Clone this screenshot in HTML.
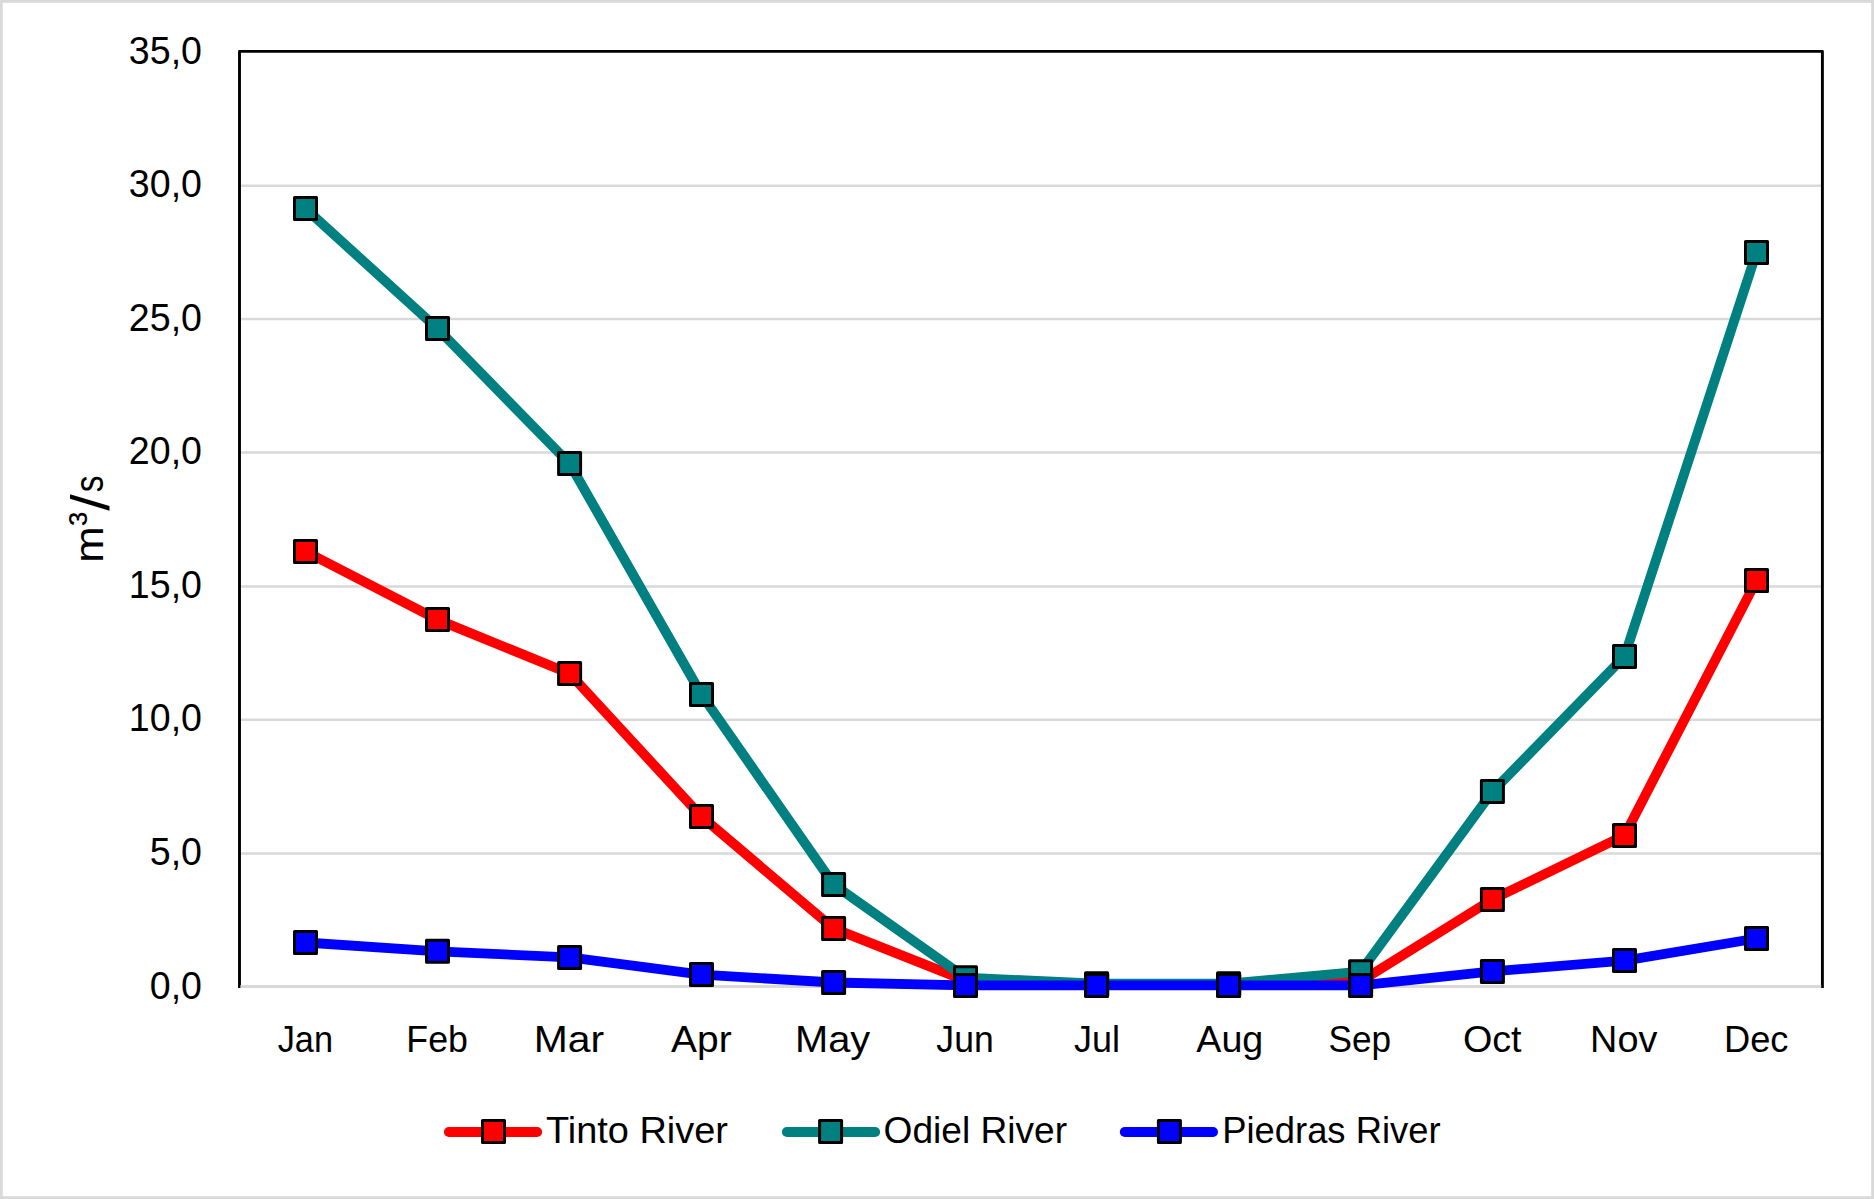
<!DOCTYPE html>
<html lang="en"><head><meta charset="utf-8"><title>Monthly discharge of the Tinto, Odiel and Piedras rivers</title>
<style>
html,body{margin:0;padding:0;background:#fff;}
body{width:1874px;height:1199px;overflow:hidden;}
svg{display:block;}
text{font-family:"Liberation Sans",sans-serif;fill:#000;}
.ax{font-size:36.2px;}
.yl{font-size:38.5px;}
.ttl{font-size:43px;}
.grid line{stroke:#d9d9d9;stroke-width:2.5;}
.ser{fill:none;stroke-width:9.8;stroke-linejoin:round;stroke-linecap:butt;}
.mk rect{stroke:#000;stroke-width:3;stroke-linejoin:round;}
.lg{fill:none;stroke-width:10;stroke-linecap:round;}
</style></head><body>
<svg width="1874" height="1199" viewBox="0 0 1874 1199">
<rect x="0" y="0" width="1874" height="1199" fill="#fff"/>
<rect x="1.4" y="1.4" width="1871.2" height="1196.2" fill="none" stroke="#d9d9d9" stroke-width="2.8"/>
<g class="grid">
<line x1="241.2" y1="185.7" x2="1821" y2="185.7"/>
<line x1="241.2" y1="319.1" x2="1821" y2="319.1"/>
<line x1="241.2" y1="452.6" x2="1821" y2="452.6"/>
<line x1="241.2" y1="586.5" x2="1821" y2="586.5"/>
<line x1="241.2" y1="719.7" x2="1821" y2="719.7"/>
<line x1="241.2" y1="853.6" x2="1821" y2="853.6"/>
</g>
<polyline points="239.5,988 239.5,51.4 1822.4,51.4 1822.4,988" fill="none" stroke="#000" stroke-width="2.9" stroke-linejoin="round"/>
<line x1="240.4" y1="986.5" x2="1821.2" y2="986.5" stroke="#d9d9d9" stroke-width="3"/>
<g id="tinto">
<polyline class="ser" stroke="#ff0000" points="305.5,551.5 437.5,619.6 569.6,673.5 701.5,816.6 833.6,928.4 965.5,980.6 1096.6,984.6 1228.6,985.0 1360.6,981.4 1492.4,899.4 1624.5,835.4 1756.5,580.5"/>
<g class="mk" fill="#ff0000">
<rect x="294.5" y="540.5" width="22" height="22"/>
<rect x="426.5" y="608.6" width="22" height="22"/>
<rect x="558.6" y="662.5" width="22" height="22"/>
<rect x="690.5" y="805.6" width="22" height="22"/>
<rect x="822.6" y="917.4" width="22" height="22"/>
<rect x="954.5" y="969.6" width="22" height="22"/>
<rect x="1085.6" y="973.6" width="22" height="22"/>
<rect x="1217.6" y="974.0" width="22" height="22"/>
<rect x="1349.6" y="970.4" width="22" height="22"/>
<rect x="1481.4" y="888.4" width="22" height="22"/>
<rect x="1613.5" y="824.4" width="22" height="22"/>
<rect x="1745.5" y="569.5" width="22" height="22"/>
</g></g>
<g id="odiel">
<polyline class="ser" stroke="#008080" points="305.5,208.6 437.5,328.6 569.6,463.6 701.5,694.5 833.6,884.4 965.5,977.7 1096.6,983.7 1228.6,983.7 1360.6,971.7 1492.4,791.6 1624.5,656.4 1756.5,252.5"/>
<g class="mk" fill="#008080">
<rect x="294.5" y="197.6" width="22" height="22"/>
<rect x="426.5" y="317.6" width="22" height="22"/>
<rect x="558.6" y="452.6" width="22" height="22"/>
<rect x="690.5" y="683.5" width="22" height="22"/>
<rect x="822.6" y="873.4" width="22" height="22"/>
<rect x="954.5" y="966.7" width="22" height="22"/>
<rect x="1085.6" y="972.7" width="22" height="22"/>
<rect x="1217.6" y="972.7" width="22" height="22"/>
<rect x="1349.6" y="960.7" width="22" height="22"/>
<rect x="1481.4" y="780.6" width="22" height="22"/>
<rect x="1613.5" y="645.4" width="22" height="22"/>
<rect x="1745.5" y="241.5" width="22" height="22"/>
</g></g>
<g id="piedras">
<polyline class="ser" stroke="#0000ff" points="305.5,942.5 437.5,951.3 569.6,957.4 701.5,974.6 833.6,982.5 965.5,985.4 1096.6,985.4 1228.6,985.4 1360.6,985.4 1492.4,971.4 1624.5,960.6 1756.5,938.5"/>
<g class="mk" fill="#0000ff">
<rect x="294.5" y="931.5" width="22" height="22"/>
<rect x="426.5" y="940.3" width="22" height="22"/>
<rect x="558.6" y="946.4" width="22" height="22"/>
<rect x="690.5" y="963.6" width="22" height="22"/>
<rect x="822.6" y="971.5" width="22" height="22"/>
<rect x="954.5" y="974.4" width="22" height="22"/>
<rect x="1085.6" y="974.4" width="22" height="22"/>
<rect x="1217.6" y="974.4" width="22" height="22"/>
<rect x="1349.6" y="974.4" width="22" height="22"/>
<rect x="1481.4" y="960.4" width="22" height="22"/>
<rect x="1613.5" y="949.6" width="22" height="22"/>
<rect x="1745.5" y="927.5" width="22" height="22"/>
</g></g>
<g class="yl" text-anchor="end">
<text x="202.00" y="63.6" textLength="73.13" lengthAdjust="spacingAndGlyphs">35,0</text>
<text x="202.00" y="197.2" textLength="73.13" lengthAdjust="spacingAndGlyphs">30,0</text>
<text x="202.00" y="330.7" textLength="73.13" lengthAdjust="spacingAndGlyphs">25,0</text>
<text x="202.00" y="464.3" textLength="73.13" lengthAdjust="spacingAndGlyphs">20,0</text>
<text x="202.00" y="597.8" textLength="73.13" lengthAdjust="spacingAndGlyphs">15,0</text>
<text x="202.00" y="731.4" textLength="73.13" lengthAdjust="spacingAndGlyphs">10,0</text>
<text x="202.00" y="864.9" textLength="52.24" lengthAdjust="spacingAndGlyphs">5,0</text>
<text x="202.00" y="998.5" textLength="52.24" lengthAdjust="spacingAndGlyphs">0,0</text>
</g>
<g class="ax">
<text id="m_Jan" x="277.68" textLength="55.30" lengthAdjust="spacingAndGlyphs" y="1052">Jan</text>
<text id="m_Feb" x="406.35" textLength="61.55" lengthAdjust="spacingAndGlyphs" y="1052">Feb</text>
<text id="m_Mar" x="533.75" textLength="70.48" lengthAdjust="spacingAndGlyphs" y="1052">Mar</text>
<text id="m_Apr" x="671.12" textLength="60.51" lengthAdjust="spacingAndGlyphs" y="1052">Apr</text>
<text id="m_May" x="795.02" textLength="75.28" lengthAdjust="spacingAndGlyphs" y="1052">May</text>
<text id="m_Jun" x="936.36" textLength="57.36" lengthAdjust="spacingAndGlyphs" y="1052">Jun</text>
<text id="m_Jul" x="1073.97" textLength="45.94" lengthAdjust="spacingAndGlyphs" y="1052">Jul</text>
<text id="m_Aug" x="1196.30" textLength="67.01" lengthAdjust="spacingAndGlyphs" y="1052">Aug</text>
<text id="m_Sep" x="1328.44" textLength="62.56" lengthAdjust="spacingAndGlyphs" y="1052">Sep</text>
<text id="m_Oct" x="1462.90" textLength="58.69" lengthAdjust="spacingAndGlyphs" y="1052">Oct</text>
<text id="m_Nov" x="1590.11" textLength="67.24" lengthAdjust="spacingAndGlyphs" y="1052">Nov</text>
<text id="m_Dec" x="1723.99" textLength="64.46" lengthAdjust="spacingAndGlyphs" y="1052">Dec</text>
</g>
<text id="ttl" transform="translate(103.1,560) rotate(-90)"><tspan id="t_m" x="-2.70" y="0" style="font-size:41.5px" textLength="36.30" lengthAdjust="spacingAndGlyphs">m</tspan><tspan id="t_3" x="34.20" y="-4.80" style="font-size:41.5px">³</tspan><tspan id="t_sl" x="49.20" y="6.00" style="font-size:54px" textLength="16.60" lengthAdjust="spacingAndGlyphs">/</tspan><tspan id="t_s" x="67.70" y="0" style="font-size:41.5px" textLength="16.80" lengthAdjust="spacingAndGlyphs">s</tspan></text>
<line class="lg" stroke="#ff0000" x1="448.9" y1="1132" x2="537.1" y2="1132"/>
<g class="mk" fill="#ff0000"><rect x="482.5" y="1120.6" width="22" height="22"/></g>
<text class="ax" id="l_tinto" x="546.04" textLength="181.95" lengthAdjust="spacingAndGlyphs" y="1143">Tinto River</text>
<line class="lg" stroke="#008080" x1="786.9" y1="1132" x2="875.1" y2="1132"/>
<g class="mk" fill="#008080"><rect x="819.6" y="1120.6" width="22" height="22"/></g>
<text class="ax" id="l_odiel" x="883.53" textLength="183.57" lengthAdjust="spacingAndGlyphs" y="1143">Odiel River</text>
<line class="lg" stroke="#0000ff" x1="1124.8" y1="1132" x2="1213.0" y2="1132"/>
<g class="mk" fill="#0000ff"><rect x="1158.4" y="1120.6" width="22" height="22"/></g>
<text class="ax" id="l_piedras" x="1222.25" textLength="218.27" lengthAdjust="spacingAndGlyphs" y="1143">Piedras River</text>
</svg></body></html>
